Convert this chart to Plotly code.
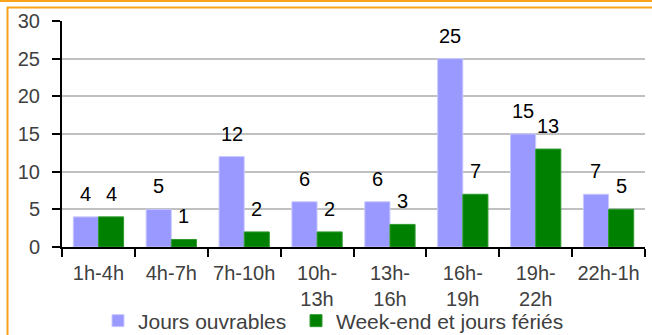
import plotly.graph_objects as go

categories = ["1h-4h", "4h-7h", "7h-10h", "10h-<br>13h", "13h-<br>16h", "16h-<br>19h", "19h-<br>22h", "22h-1h"]
jours_ouvrables = [4, 5, 12, 6, 6, 25, 15, 7]
week_end = [4, 1, 2, 2, 3, 7, 13, 5]
series_names = ["Jours ouvrables", "Week-end et jours fériés"]
y_ticks = [0, 5, 10, 15, 20, 25, 30]

PURPLE = "#9999FF"
GREEN = "#008000"
ORANGE = "#F9A21B"
FONT = "Liberation Sans, Arial, sans-serif"

W, H = 652, 335
ML, MR, MT, MB = 62, 7, 21, 88
PW, PH = W - ML - MR, H - MT - MB

def px_x(p):
    return (p - ML) / PW

def px_y(p):
    return (H - MB - p) / PH

fig = go.Figure()
fig.add_trace(go.Bar(x=categories, y=jours_ouvrables, name=series_names[0], legend="legend",
                     marker=dict(color=PURPLE, line=dict(color="#C8C8FF", width=1))))
fig.add_trace(go.Bar(x=categories, y=week_end, name=series_names[1], legend="legend2",
                     marker=dict(color=GREEN, line=dict(color="#2E9A2E", width=1))))

# value labels
bar_px = PW / len(categories) * 0.69 / 2
for vals, sh in ((jours_ouvrables, -bar_px / 2), (week_end, bar_px / 2)):
    for c, v in zip(categories, vals):
        fig.add_annotation(x=c, y=v, xref="x", yref="y", text=str(v), showarrow=False,
                           xanchor="center", yanchor="bottom", xshift=sh, yshift=10,
                           font=dict(family=FONT, size=20, color="#000000"))

# orange frame lines
fig.add_shape(type="line", xref="paper", yref="paper", x0=px_x(0), x1=px_x(W + 5),
              y0=px_y(1), y1=px_y(1), line=dict(color=ORANGE, width=2))
fig.add_shape(type="line", xref="paper", yref="paper", x0=px_x(7), x1=px_x(W + 5),
              y0=px_y(7.5), y1=px_y(7.5), line=dict(color=ORANGE, width=2))
fig.add_shape(type="line", xref="paper", yref="paper", x0=px_x(7.5), x1=px_x(7.5),
              y0=px_y(7), y1=px_y(H + 5), line=dict(color=ORANGE, width=2))

legend_common = dict(orientation="h", yanchor="middle", y=px_y(321), xanchor="left",
                     font=dict(family=FONT, size=21, color="#404040"),
                     itemwidth=30, bgcolor="rgba(0,0,0,0)", borderwidth=0)

fig.update_layout(
    width=W, height=H,
    margin=dict(l=ML, r=MR, t=MT, b=MB, autoexpand=False),
    paper_bgcolor="white", plot_bgcolor="white",
    barmode="group", bargap=0.31, bargroupgap=0,
    font=dict(family=FONT, size=20, color="#404040"),
    showlegend=True,
    legend=dict(x=px_x(98), **legend_common),
    legend2=dict(x=px_x(296), **legend_common),
    xaxis=dict(type="category", showline=True, linecolor="black", linewidth=2,
               ticks="outside", ticklen=8, tickwidth=2, tickcolor="black",
               tickson="boundaries", showgrid=False, automargin=False,
               ticklabelstandoff=7,
               tickfont=dict(family=FONT, size=20, color="#404040")),
    yaxis=dict(range=[0, 30], tickvals=y_ticks, showline=True, linecolor="black",
               linewidth=2, ticks="outside", ticklen=8, tickwidth=2, tickcolor="black",
               showgrid=True, gridcolor="#C0C0C0", gridwidth=2, zeroline=False,
               ticklabelstandoff=8, automargin=False,
               tickfont=dict(family=FONT, size=20, color="#404040")),
)

fig.write_html("out.html", config={"displayModeBar": False},
               post_script="document.body.style.margin='0';document.body.style.padding='0';"
                           "document.body.style.overflow='hidden';")
